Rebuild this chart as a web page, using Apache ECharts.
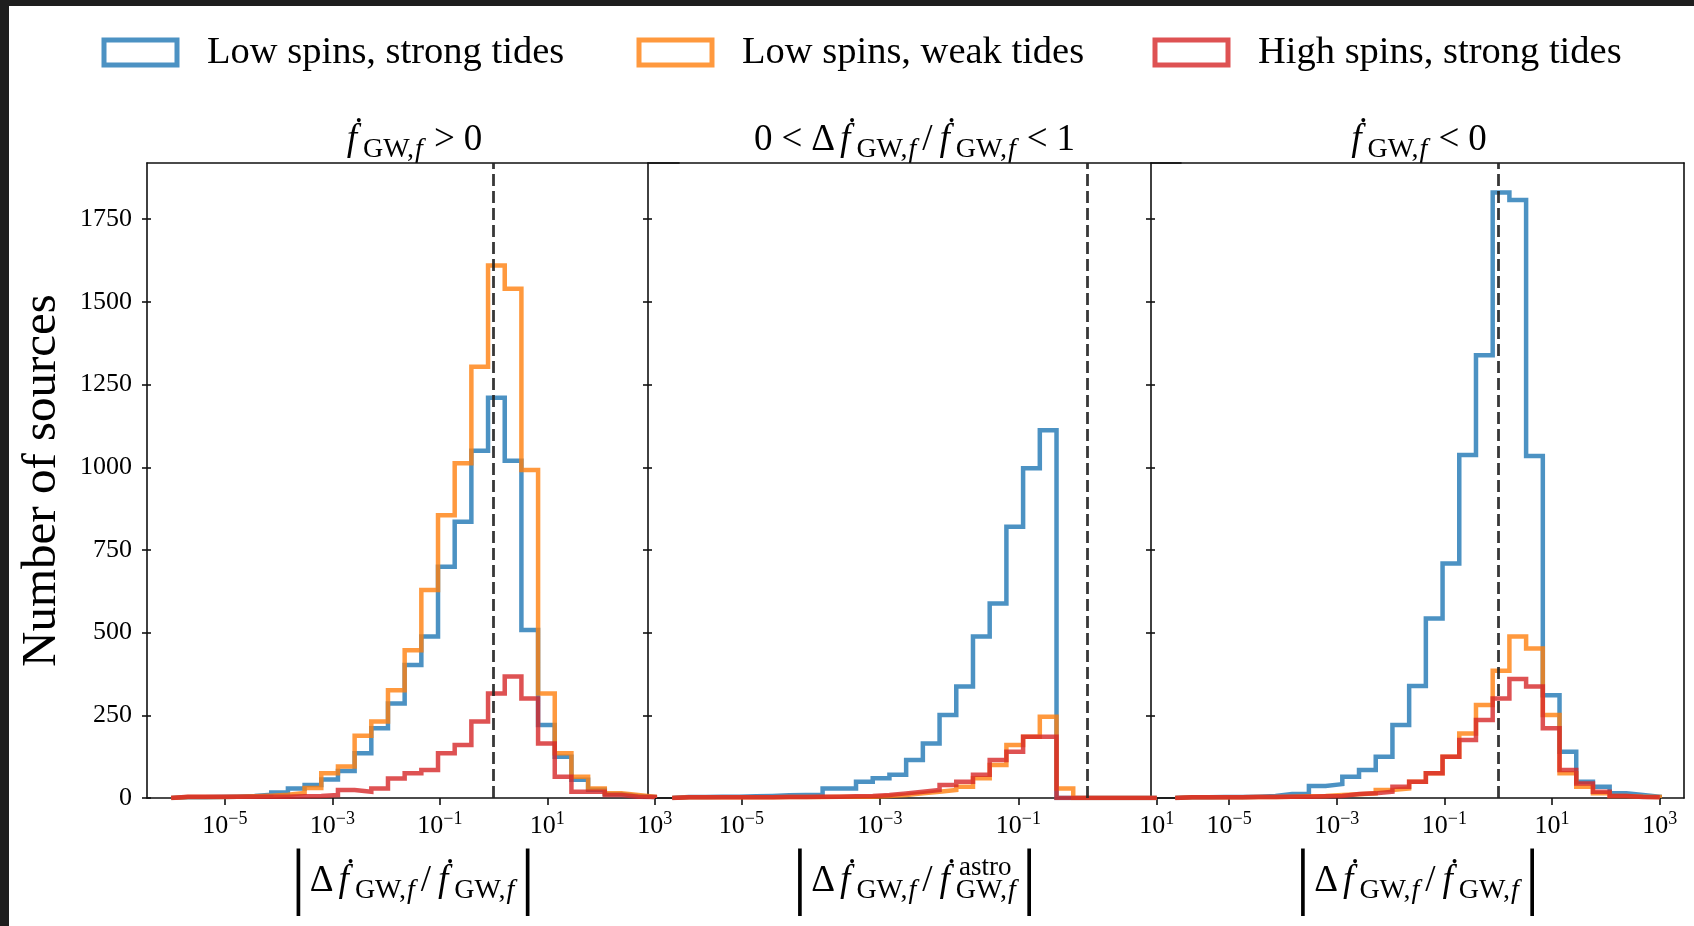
<!DOCTYPE html>
<html><head><meta charset="utf-8">
<script src="https://cdn.jsdelivr.net/npm/echarts@6/dist/echarts.min.js"></script>
<style>
html,body{margin:0;padding:0;background:#fff;overflow:hidden;}
#chart{position:absolute;left:0;top:0;width:1694px;height:926px;}
.frameL{position:absolute;left:0;top:0;width:9px;height:926px;background:#1e1e1e;z-index:5}
.frameT{position:absolute;left:0;top:0;width:1694px;height:6px;background:#1e1e1e;z-index:5}
</style></head>
<body><div id="chart"></div><div class="frameL"></div><div class="frameT"></div>
<script>
// ---------------- data ----------------
const seriesNames = ['Low spins, strong tides', 'Low spins, weak tides', 'High spins, strong tides'];
const seriesColors = ['#1f77b4', '#ff7f0e', '#d62728'];
const seriesLegendColors = ['rgba(31,119,180,0.8)', 'rgba(255,127,14,0.8)', 'rgba(214,39,40,0.8)'];

// log10 bin edges: 29 log-spaced bins
const binsWide = [-6, 3];     // panels 1 and 3
const binsNarrow = [-6, 1];   // panel 2
const xTicksWide = [-5, -3, -1, 1, 3];
const xTicksNarrow = [-5, -3, -1, 1];
const yTicks = [0, 250, 500, 750, 1000, 1250, 1500, 1750];
const yMax = 1920;
const refLine = 0; // log10(1)

// panel 1 : fdot > 0
const p1Blue   = [2, 2, 3, 4, 6, 10, 17, 29, 39, 56, 82, 135, 211, 286, 402, 488, 699, 835, 1050, 1210, 1020, 508, 221, 125, 55, 25, 12, 6, 3];
const p1Orange = [3, 3, 3, 4, 5, 7, 10, 15, 30, 75, 95, 188, 231, 326, 447, 629, 855, 1012, 1304, 1610, 1540, 992, 316, 135, 64, 29, 14, 9, 4];
const p1Red    = [4, 4, 4, 4, 4, 4, 4, 5, 6, 9, 24, 19, 29, 59, 75, 85, 135, 160, 231, 316, 367, 301, 165, 64, 19, 19, 9, 4, 3];
// panel 2 : 0 < dfdot/fdot < 1
const p2Blue   = [3, 3, 4, 4, 5, 6, 8, 9, 9, 29, 29, 49, 60, 70, 115, 165, 251, 337, 488, 588, 820, 997, 1112, 0, 0, 0, 0, 0, 0];
const p2Orange = [2, 2, 2, 2, 2, 2, 3, 3, 3, 4, 4, 4, 6, 9, 14, 19, 24, 34, 60, 100, 160, 185, 246, 29, 0, 0, 0, 0, 0];
const p2Red    = [2, 2, 2, 2, 2, 2, 3, 3, 4, 4, 5, 6, 9, 14, 19, 24, 39, 49, 70, 115, 140, 185, 185, 0, 0, 0, 0, 0, 0];
// panel 3 : fdot < 0
const p3Blue   = [2, 2, 3, 3, 4, 6, 12, 12, 36, 42, 64, 85, 125, 221, 339, 543, 709, 1037, 1339, 1831, 1808, 1034, 311, 140, 49, 34, 14, 9, 4];
const p3Orange = [2, 2, 2, 2, 3, 3, 4, 5, 6, 9, 11, 14, 24, 29, 49, 75, 125, 195, 281, 385, 488, 452, 251, 75, 34, 14, 6, 4, 3];
const p3Red    = [2, 2, 2, 2, 3, 3, 4, 4, 5, 6, 12, 14, 19, 34, 49, 75, 125, 175, 236, 301, 360, 337, 211, 85, 44, 19, 6, 3, 2];

// ---------------- text ----------------
const SERIF = "'Liberation Serif','DejaVu Serif',serif";
const panelTitles = [
  '{it|ḟ}{sub|GW,}{subit|f}{rel|>}{rm|0}',
  '{rm|0}{rel|<}{rm|Δ}{it|ḟ}{sub|GW,}{subit|f}{sl|/}{it|ḟ}{sub|GW,}{subit|f}{rel|<}{rm|1}',
  '{it|ḟ}{sub|GW,}{subit|f}{rel|<}{rm|0}'
];
const xNames = [
  '{bar||}{rm|Δ}{it|ḟ}{sub|GW,}{subit|f}{sl|/}{it|ḟ}{sub|GW,}{subit|f}{bar||}',
  '{bar||}{rm|Δ}{it|ḟ}{sub|GW,}{subit|f}{sl|/}{it|ḟ}{sub|GW,}{subit|f}{bar||}',
  '{bar||}{rm|Δ}{it|ḟ}{sub|GW,}{subit|f}{sl|/}{it|ḟ}{sub|GW,}{subit|f}{bar||}'
];
const superAstro = 'astro';
const yName = 'Number of sources';

// ---------------- build ----------------
const panels = [
  {bins: binsWide,   range: [-6.45, 3.45], ticks: xTicksWide,   data: [p1Blue, p1Orange, p1Red], left: 147,  width: 532},
  {bins: binsNarrow, range: [-6.35, 1.35], ticks: xTicksNarrow, data: [p2Blue, p2Orange, p2Red], left: 648,  width: 533},
  {bins: binsWide,   range: [-6.45, 3.45], ticks: xTicksWide,   data: [p3Blue, p3Orange, p3Red], left: 1151, width: 533}
];
const GRID_TOP = 163, GRID_H = 635;
const INK = '#111';

function stepPath(bins, counts) {
  const n = counts.length, w = (bins[1] - bins[0]) / n;
  const pts = [[bins[0], 0]];
  counts.forEach((c, i) => { pts.push([bins[0] + i * w, c]); pts.push([bins[0] + (i + 1) * w, c]); });
  pts.push([bins[1], 0]);
  return pts;
}

const mathRich = {
  rm:    {fontFamily: SERIF, fontSize: 37, color: '#000', padding: [0, 1, 0, 1]},
  rel:   {fontFamily: SERIF, fontSize: 37, color: '#000', padding: [0, 8, 0, 8]},
  sl:    {fontFamily: SERIF, fontSize: 37, color: '#000', padding: [0, 3, 0, 3]},
  it:    {fontFamily: SERIF, fontSize: 37, fontStyle: 'italic', color: '#000', padding: [0, 6, 0, 4]},
  sub:   {fontFamily: SERIF, fontSize: 28, color: '#000', padding: [20, 0, 0, 0]},
  subit: {fontFamily: SERIF, fontSize: 28, fontStyle: 'italic', color: '#000', padding: [20, 3, 0, 1]},
  bar:   {fontFamily: SERIF, fontSize: 74, color: '#000', padding: [0, 3, 0, 3]}
};
const tickRich = {
  b: {fontFamily: SERIF, fontSize: 26, color: '#000'},
  s: {fontFamily: SERIF, fontSize: 18, color: '#000', padding: [0, 0, 14, 0]}
};

const grids = [], xAxes = [], yAxes = [], series = [];
panels.forEach((p, gi) => {
  grids.push({left: p.left, top: GRID_TOP, width: p.width, height: GRID_H, containLabel: false});
  const bottomIdx = xAxes.length;
  xAxes.push({
    gridIndex: gi, type: 'value', position: 'bottom', min: p.range[0], max: p.range[1],
    axisLine: {show: true, onZero: false, lineStyle: {color: INK, width: 1.6}},
    axisTick: {show: true, inside: false, length: 7, customValues: p.ticks, lineStyle: {color: INK, width: 1.6}},
    axisLabel: {show: true, customValues: p.ticks, margin: 12,
      formatter: v => '{b|10}{s|' + (v < 0 ? '\u2212' + Math.abs(v) : v) + '}', rich: tickRich},
    splitLine: {show: false},
    name: xNames[gi], nameLocation: 'middle', nameGap: 43, nameTextStyle: {rich: mathRich}
  });
  xAxes.push({
    gridIndex: gi, type: 'value', position: 'top', min: p.range[0], max: p.range[1],
    axisLine: {show: true, onZero: false, lineStyle: {color: INK, width: 1.6}},
    axisTick: {show: false}, axisLabel: {show: false}, splitLine: {show: false},
    name: panelTitles[gi], nameLocation: 'middle', nameGap: -1, nameTextStyle: {rich: mathRich}
  });
  const leftIdx = yAxes.length;
  yAxes.push({
    gridIndex: gi, type: 'value', position: 'left', min: 0, max: yMax,
    axisLine: {show: true, onZero: false, lineStyle: {color: INK, width: 1.6}},
    axisTick: {show: true, inside: false, length: 5, customValues: yTicks, lineStyle: {color: INK, width: 1.6}},
    axisLabel: {show: gi === 0, customValues: yTicks, margin: 15, formatter: v => String(v),
      fontFamily: SERIF, fontSize: 26, color: '#000'},
    splitLine: {show: false},
    name: gi === 0 ? yName : '', nameLocation: 'middle', nameGap: 80,
    nameTextStyle: {fontFamily: SERIF, fontSize: 49, color: '#000'}
  });
  yAxes.push({
    gridIndex: gi, type: 'value', position: 'left', min: 0, max: yMax,
    axisLine: {show: false, onZero: false},
    axisTick: {show: true, inside: true, length: 4, customValues: yTicks, lineStyle: {color: INK, width: 1.6}},
    axisLabel: {show: false}, splitLine: {show: false}
  });
  if (gi === 2) {
    yAxes.push({
      gridIndex: gi, type: 'value', position: 'right', min: 0, max: yMax,
      axisLine: {show: true, onZero: false, lineStyle: {color: INK, width: 1.6}},
      axisTick: {show: false}, axisLabel: {show: false}, splitLine: {show: false}
    });
  }
  p.data.forEach((counts, k) => {
    const s = {
      type: 'line', name: seriesNames[k], xAxisIndex: bottomIdx, yAxisIndex: leftIdx,
      data: stepPath(p.bins, counts), symbol: 'none', showSymbol: false, animation: false, silent: true,
      lineStyle: {color: seriesColors[k], width: 4.5, opacity: 0.8, join: 'miter', cap: 'butt'},
      itemStyle: {color: seriesColors[k]}, z: 2
    };
    if (k === 0) {
      s.markLine = {
        silent: true, symbol: ['none', 'none'], animation: false, label: {show: false},
        lineStyle: {color: '#222', width: 2.8, type: [12, 5], opacity: 0.9},
        data: [{xAxis: refLine}]
      };
    }
    series.push(s);
  });
});

const legendLefts = [96.5, 631.5, 1147.5];
const legends = seriesNames.map((n, i) => ({
  data: [{name: n, itemStyle: {color: '#fff', borderColor: seriesLegendColors[i], borderWidth: 5}}],
  left: legendLefts[i], top: 28, icon: 'rect', itemWidth: 73, itemHeight: 25, selectedMode: false,
  textStyle: {fontFamily: SERIF, fontSize: 38.5, color: '#000', padding: [0, 0, 0, 25]}
}));

const chart = echarts.init(document.getElementById('chart'), null, {renderer: 'canvas'});
chart.setOption({
  backgroundColor: '#fff',
  animation: false,
  legend: legends,
  grid: grids,
  xAxis: xAxes,
  yAxis: yAxes,
  series: series,
  graphic: [{
    type: 'text', left: 959, top: 854, silent: true,
    style: {text: superAstro, fontFamily: SERIF, fontSize: 27, fill: '#000'}
  }]
});
</script></body></html>
